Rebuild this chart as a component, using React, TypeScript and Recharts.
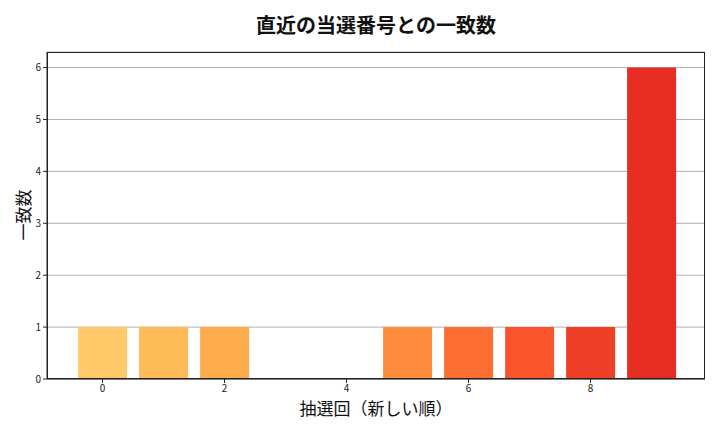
import React from "react";
import { BarChart, Bar, XAxis, YAxis, CartesianGrid, Cell } from "recharts";

const draws = ["0", "1", "2", "3", "4", "5", "6", "7", "8", "9"];
const matches = [1, 1, 1, 0, 0, 1, 1, 1, 1, 6];
const barColors = ["#fec966", "#febb58", "#fdab4b", "#fd9c43", "#fd8c3c", "#fd8c3c", "#fc6e32", "#fa542c", "#f03f27", "#e82e23"];
const yTicks = [0, 1, 2, 3, 4, 5, 6];

const data = draws.map((d, i) => ({ draw: d, value: matches[i] }));

const FONT = "'Noto Sans CJK JP', 'DejaVu Sans', sans-serif";

export default function App() {
  return (
    <div style={{ position: "absolute", left: 0, top: 0, width: 720, height: 432, background: "#fff", fontFamily: FONT }}>
      <BarChart
        width={720}
        height={432}
        data={data}
        margin={{ top: 52, right: 15, bottom: 23, left: 0 }}
        barCategoryGap="10%"
      >
        <CartesianGrid horizontal={true} vertical={false} stroke="#b0b0b0" strokeWidth={1} />
        <XAxis
          dataKey="draw"
          interval={1}
          padding={{ left: 25, right: 23 }}
          height={30}
          tick={{ fontSize: 10, fill: "#222", fontFamily: FONT }}
          tickLine={{ stroke: "#222" }}
          tickSize={4}
          axisLine={{ stroke: "#222" }}
        />
        <YAxis
          width={47}
          domain={[0, 6.3]}
          ticks={yTicks}
          allowDataOverflow
          tick={{ fontSize: 10, fill: "#222", fontFamily: FONT }}
          tickLine={{ stroke: "#222" }}
          tickSize={4}
          axisLine={{ stroke: "#222" }}
        />
        <Bar dataKey="value" isAnimationActive={false}>
          {data.map((d, i) => (
            <Cell key={d.draw} fill={barColors[i]} />
          ))}
        </Bar>
      </BarChart>
      <div style={{ position: "absolute", left: 47, top: 52, width: 658, height: 327, border: "1px solid #222", boxSizing: "border-box", pointerEvents: "none" }} />
      <div style={{ position: "absolute", left: 47, width: 658, top: 10, textAlign: "center", fontSize: 20, fontWeight: "bold", color: "#111" }}>
        直近の当選番号との一致数
      </div>
      <div style={{ position: "absolute", left: 47, width: 658, top: 395, textAlign: "center", fontSize: 17, color: "#111" }}>
        抽選回（新しい順）
      </div>
      <div style={{ position: "absolute", left: 22, top: 215, transform: "translate(-50%, -50%) rotate(-90deg)", fontSize: 17, color: "#111", whiteSpace: "nowrap" }}>
        一致数
      </div>
    </div>
  );
}
